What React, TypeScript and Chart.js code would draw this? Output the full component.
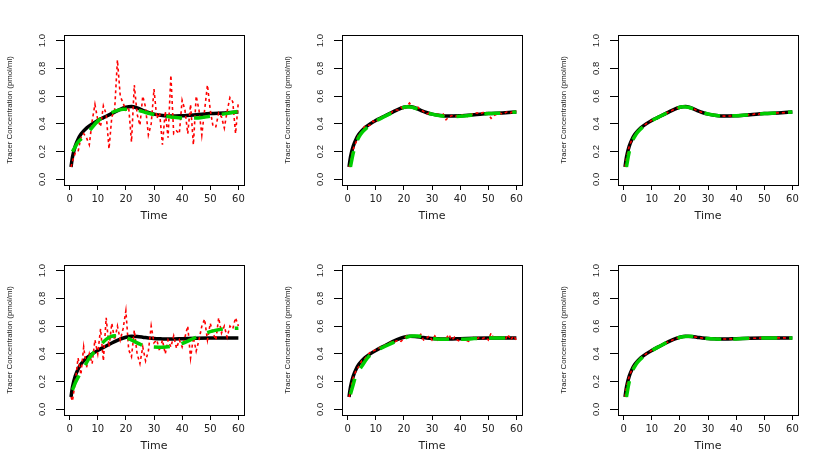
import React, { useEffect, useRef } from "react";
import { Chart, registerables } from "chart.js";

Chart.register(...registerables);

// ---------- data ----------
const OBS_T = [0.5, 1, 2, 3, 4, 5, 6, 7, 8, 9, 10, 11, 12, 13, 14, 15, 16, 17, 18, 19, 20,
  21, 22, 23, 24, 25, 26, 27, 28, 29, 30, 31, 32, 33, 34, 35, 36, 37, 38, 39, 40,
  41, 42, 43, 44, 45, 46, 47, 48, 49, 50, 51, 52, 53, 54, 55, 56, 57, 58, 59, 60];

const OBS_1 = [0.09, 0.13, 0.19, 0.2, 0.3, 0.33, 0.3, 0.25, 0.42, 0.54, 0.43, 0.38, 0.53, 0.47, 0.22, 0.45,
  0.5, 0.86, 0.6, 0.55, 0.5, 0.52, 0.27, 0.68, 0.47, 0.39, 0.6, 0.52, 0.32, 0.4, 0.65, 0.44, 0.48, 0.25,
  0.49, 0.3, 0.75, 0.33, 0.35, 0.33, 0.57, 0.5, 0.33, 0.54, 0.25, 0.6, 0.5, 0.32, 0.5, 0.68, 0.5, 0.38,
  0.38, 0.48, 0.45, 0.37, 0.49, 0.59, 0.56, 0.33, 0.56];
const OBS_2 = [0.09, 0.12, 0.22, 0.27, 0.33, 0.34, 0.38, 0.39, 0.39, 0.42, 0.41, 0.44, 0.45, 0.44, 0.46, 0.47,
  0.49, 0.5, 0.5, 0.52, 0.5, 0.53, 0.55, 0.52, 0.53, 0.52, 0.5, 0.49, 0.47, 0.48, 0.47, 0.46, 0.47, 0.46,
  0.47, 0.43, 0.45, 0.46, 0.45, 0.46, 0.45, 0.47, 0.46, 0.45, 0.47, 0.47, 0.48, 0.47, 0.48, 0.49, 0.47,
  0.44, 0.46, 0.47, 0.48, 0.47, 0.48, 0.49, 0.48, 0.49, 0.49];
const OBS_3 = [0.09, 0.15, 0.24, 0.29, 0.32, 0.35, 0.37, 0.385, 0.4, 0.413, 0.425, 0.436, 0.445, 0.456, 0.465,
  0.476, 0.485, 0.495, 0.505, 0.513, 0.52, 0.525, 0.527, 0.522, 0.515, 0.507, 0.498, 0.49, 0.482, 0.475,
  0.47, 0.466, 0.47, 0.46, 0.458, 0.457, 0.456, 0.456, 0.457, 0.458, 0.459, 0.46, 0.462, 0.463, 0.465,
  0.466, 0.468, 0.475, 0.47, 0.478, 0.474, 0.475, 0.476, 0.477, 0.478, 0.479, 0.48, 0.481, 0.482, 0.484, 0.49];
const OBS_4 = [0.09, 0.06, 0.2, 0.37, 0.25, 0.45, 0.3, 0.4, 0.33, 0.5, 0.4, 0.58, 0.35, 0.66, 0.45, 0.62,
  0.5, 0.6, 0.5, 0.58, 0.71, 0.43, 0.38, 0.57, 0.4, 0.33, 0.45, 0.35, 0.42, 0.6, 0.48, 0.5, 0.42, 0.5,
  0.4, 0.5, 0.45, 0.53, 0.44, 0.5, 0.45, 0.52, 0.6, 0.37, 0.52, 0.42, 0.5, 0.6, 0.65, 0.5, 0.62, 0.55,
  0.5, 0.66, 0.55, 0.6, 0.52, 0.6, 0.58, 0.66, 0.6];
const OBS_5 = [0.09, 0.13, 0.23, 0.28, 0.31, 0.35, 0.36, 0.39, 0.41, 0.42, 0.43, 0.44, 0.45, 0.46, 0.47, 0.48,
  0.49, 0.49, 0.5, 0.49, 0.51, 0.53, 0.52, 0.54, 0.53, 0.52, 0.54, 0.5, 0.51, 0.53, 0.5, 0.53, 0.5, 0.52,
  0.5, 0.51, 0.54, 0.5, 0.52, 0.5, 0.49, 0.51, 0.5, 0.49, 0.51, 0.52, 0.51, 0.52, 0.51, 0.52, 0.5, 0.55,
  0.51, 0.52, 0.51, 0.52, 0.5, 0.54, 0.5, 0.53, 0.5];
const OBS_6 = [0.09, 0.16, 0.24, 0.29, 0.325, 0.35, 0.37, 0.385, 0.4, 0.413, 0.425, 0.437, 0.447, 0.457, 0.468,
  0.478, 0.488, 0.497, 0.506, 0.513, 0.52, 0.524, 0.527, 0.527, 0.525, 0.523, 0.52, 0.517, 0.514, 0.512,
  0.51, 0.509, 0.508, 0.52, 0.508, 0.507, 0.507, 0.507, 0.508, 0.508, 0.509, 0.51, 0.51, 0.511, 0.511,
  0.512, 0.512, 0.513, 0.513, 0.514, 0.514, 0.514, 0.515, 0.52, 0.515, 0.515, 0.515, 0.515, 0.514, 0.514, 0.514];

const TRUE_T = [0.5, 1, 2, 3, 4, 5, 6, 8, 10, 12, 14, 16, 18, 20, 22, 24, 26, 28, 30, 33, 36, 40, 45, 50, 55, 60];
const TRUE_TOP = [0.09, 0.16, 0.24, 0.29, 0.325, 0.35, 0.37, 0.4, 0.425, 0.445, 0.465, 0.485, 0.505, 0.52, 0.526,
  0.515, 0.498, 0.482, 0.47, 0.46, 0.456, 0.459, 0.466, 0.474, 0.479, 0.485];
const TRUE_BOTTOM = [0.09, 0.16, 0.24, 0.29, 0.325, 0.35, 0.37, 0.4, 0.425, 0.447, 0.468, 0.488, 0.506, 0.52, 0.527,
  0.525, 0.52, 0.514, 0.51, 0.508, 0.507, 0.509, 0.512, 0.514, 0.515, 0.514];

const FIT_T = [1, 2, 3, 4, 5, 7, 10, 13, 16, 19, 21, 23, 25, 27, 30, 33, 36, 40, 45, 50, 55, 60];
const FIT_1 = [0.2, 0.235, 0.27, 0.29, 0.31, 0.35, 0.42, 0.46, 0.49, 0.505, 0.506, 0.502, 0.495, 0.482, 0.468,
  0.458, 0.45, 0.442, 0.442, 0.455, 0.472, 0.49];
const FIT_2 = [0.09, 0.19, 0.26, 0.305, 0.335, 0.375, 0.42, 0.452, 0.482, 0.51, 0.524, 0.52, 0.505, 0.49, 0.47,
  0.458, 0.452, 0.455, 0.465, 0.474, 0.478, 0.485];
const FIT_3 = [0.09, 0.2, 0.27, 0.31, 0.34, 0.38, 0.423, 0.455, 0.485, 0.512, 0.524, 0.52, 0.506, 0.49, 0.471,
  0.461, 0.457, 0.459, 0.466, 0.474, 0.479, 0.486];
const FIT_4 = [0.14, 0.19, 0.23, 0.27, 0.3, 0.37, 0.44, 0.505, 0.53, 0.525, 0.51, 0.49, 0.47, 0.455, 0.45,
  0.448, 0.455, 0.475, 0.52, 0.56, 0.58, 0.585];
const FIT_5 = [0.11, 0.18, 0.25, 0.28, 0.31, 0.37, 0.42, 0.452, 0.48, 0.505, 0.52, 0.528, 0.528, 0.522, 0.512,
  0.506, 0.505, 0.505, 0.51, 0.515, 0.515, 0.515];
const FIT_6 = [0.09, 0.2, 0.27, 0.31, 0.34, 0.38, 0.424, 0.457, 0.488, 0.513, 0.524, 0.527, 0.524, 0.518, 0.51,
  0.507, 0.506, 0.508, 0.512, 0.514, 0.515, 0.514];

const X_TITLE = "Time";
const Y_TITLE = "Tracer Concentration (pmol/ml)";

const PANELS = [
  { obs: OBS_1, fit: FIT_1, truth: TRUE_TOP },
  { obs: OBS_2, fit: FIT_2, truth: TRUE_TOP },
  { obs: OBS_3, fit: FIT_3, truth: TRUE_TOP },
  { obs: OBS_4, fit: FIT_4, truth: TRUE_BOTTOM },
  { obs: OBS_5, fit: FIT_5, truth: TRUE_BOTTOM },
  { obs: OBS_6, fit: FIT_6, truth: TRUE_BOTTOM },
];

// ---------- layout ----------
const COL_LEFT = [0, 278, 554];
const ROW_TOP = [0, 230];
const CW = 276;
const CH = 230;
const TEXT = "#222";

const pairs = (xs: number[], ys: number[]) => xs.map((x, i) => ({ x, y: ys[i] }));

const boxPlugin = {
  id: "rbox",
  afterDraw(chart: any) {
    const { ctx, chartArea: a } = chart;
    ctx.save();
    ctx.strokeStyle = "#000";
    ctx.lineWidth = 1;
    ctx.strokeRect(Math.round(a.left) + 0.5, Math.round(a.top) + 0.5,
      Math.round(a.right - a.left), Math.round(a.bottom - a.top));
    ctx.restore();
  },
};

function Panel({ idx }: { idx: number }) {
  const ref = useRef<HTMLCanvasElement | null>(null);
  useEffect(() => {
    const p = PANELS[idx];
    const chart = new Chart(ref.current as HTMLCanvasElement, {
      type: "line",
      data: {
        datasets: [
          {
            data: pairs(FIT_T, p.fit),
            borderColor: "#00CD00",
            borderWidth: 3.5,
            borderDash: [16, 12],
            cubicInterpolationMode: "monotone",
            pointRadius: 0,
            fill: false,
          },
          {
            data: pairs(OBS_T, p.obs),
            borderColor: "#FF0000",
            borderWidth: 1.6,
            borderDash: [3, 3],
            tension: 0,
            pointRadius: 0,
            fill: false,
          },
          {
            data: pairs(TRUE_T, p.truth),
            borderColor: "#000000",
            borderWidth: 3.5,
            cubicInterpolationMode: "monotone",
            pointRadius: 0,
            fill: false,
          },
        ],
      } as any,
      options: {
        responsive: false,
        animation: false,
        devicePixelRatio: 1,
        events: [],
        layout: { padding: { top: 35, right: 32, left: 0, bottom: 0 } },
        plugins: { legend: { display: false }, tooltip: { enabled: false } },
        scales: {
          x: {
            type: "linear",
            min: -2,
            max: 62,
            afterFit: (s: any) => { s.height = 45; },
            border: { display: false },
            grid: { drawOnChartArea: false, drawTicks: true, tickLength: 5, color: "#000", lineWidth: 1 },
            ticks: {
              stepSize: 10, includeBounds: false, autoSkip: false, minRotation: 0, maxRotation: 0,
              padding: 3, color: TEXT, font: { family: "DejaVu Sans", size: 10 },
            },
            title: {
              display: true, text: X_TITLE, color: TEXT,
              font: { family: "DejaVu Sans", size: 11 }, padding: { top: 0, bottom: 7 },
            },
          },
          y: {
            type: "linear",
            min: -0.04,
            max: 1.04,
            afterFit: (s: any) => { s.width = 64; },
            border: { display: false },
            grid: { drawOnChartArea: false, drawTicks: true, tickLength: 8, color: "#000", lineWidth: 1 },
            ticks: {
              stepSize: 0.2, includeBounds: false, autoSkip: false, minRotation: 90, maxRotation: 90,
              crossAlign: "center", padding: 7, color: TEXT,
              font: { family: "Liberation Sans", size: 9.5 },
              callback: (v: any) => Number(v).toFixed(1),
            },
            title: {
              display: true, text: Y_TITLE, color: TEXT,
              font: { family: "'Liberation Sans Narrow', 'Liberation Sans'", size: 7.8 },
              padding: { top: 5, bottom: 0 },
            },
          },
        },
      } as any,
      plugins: [boxPlugin],
    });
    return () => chart.destroy();
  }, [idx]);
  const col = idx % 3;
  const row = Math.floor(idx / 3);
  return (
    <canvas
      ref={ref}
      width={CW}
      height={CH}
      style={{ position: "absolute", left: COL_LEFT[col], top: ROW_TOP[row], width: CW, height: CH }}
    />
  );
}

export default function App() {
  return (
    <div style={{ position: "absolute", left: 0, top: 0, width: 830, height: 460, background: "#fff" }}>
      {PANELS.map((_, i) => (
        <Panel key={i} idx={i} />
      ))}
    </div>
  );
}
